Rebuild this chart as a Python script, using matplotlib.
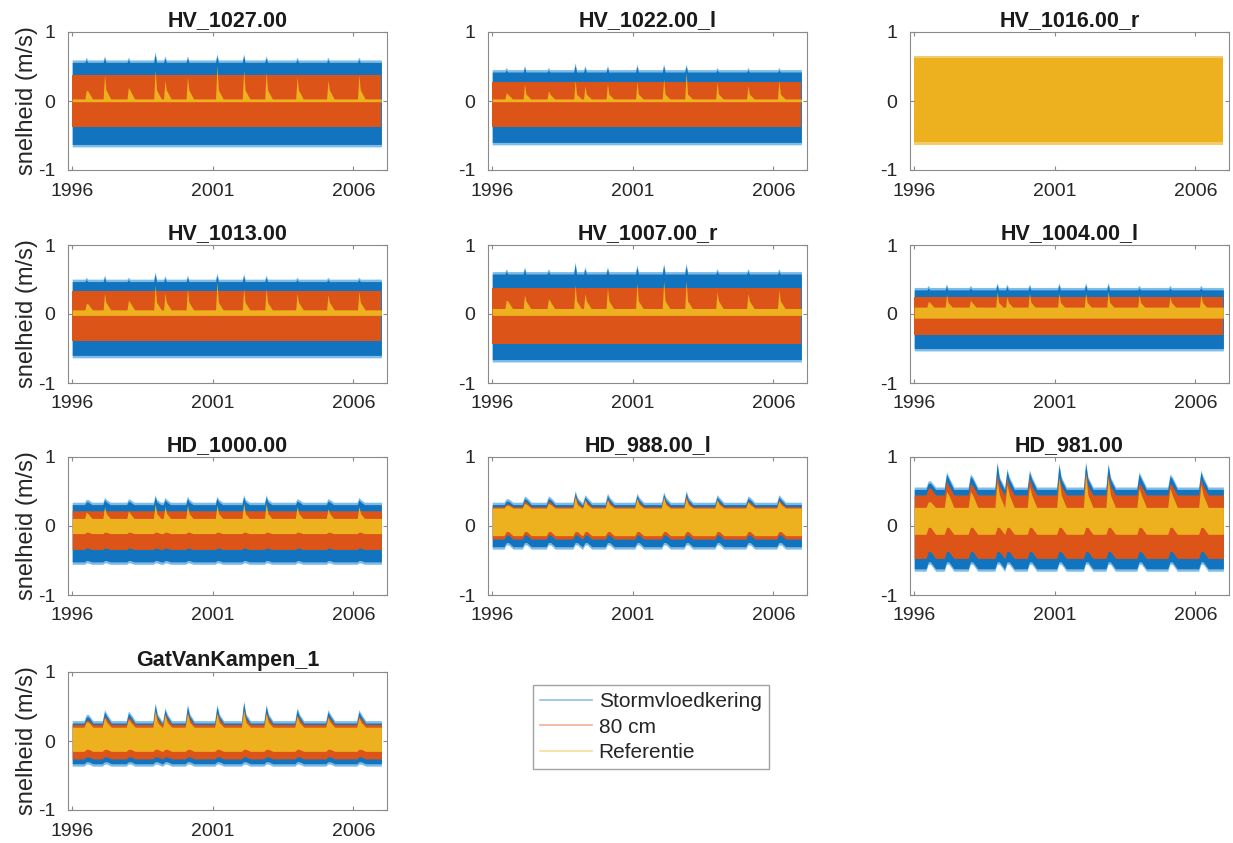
import matplotlib.pyplot as plt
from matplotlib.lines import Line2D

plt.rcParams['font.family'] = ['Liberation Sans', 'DejaVu Sans']
plt.rcParams['axes.unicode_minus'] = False

# station names (panel order, row by row)
titles = ['HV_1027.00', 'HV_1022.00_l', 'HV_1016.00_r',
          'HV_1013.00', 'HV_1007.00_r', 'HV_1004.00_l',
          'HD_1000.00', 'HD_988.00_l', 'HD_981.00',
          'GatVanKampen_1']
series_names = ['Stormvloedkering', '80 cm', 'Referentie']

t_start, t_end = 1996.0, 2007.0
xticks = [1996, 2001, 2006]
yticks = [-1, 0, 1]

# winter discharge peaks (decimal year)
peak_dates = [1996.5, 1997.15, 1998.0, 1998.95, 1999.3, 2000.1,
              2001.15, 2002.1, 2002.9, 2004.0, 2005.1, 2006.2]

# base envelope of each series (m/s), None = hidden under Referentie
storm_hi = [0.56, 0.42, None, 0.47, 0.58, 0.35, 0.31, 0.31, 0.53, 0.26]
storm_lo = [-0.63, -0.60, None, -0.60, -0.66, -0.50, -0.52, -0.30, -0.62, -0.33]
cm80_hi = [0.38, 0.28, None, 0.33, 0.37, 0.24, 0.22, 0.28, 0.45, 0.24]
cm80_lo = [-0.37, -0.38, None, -0.39, -0.43, -0.31, -0.34, -0.19, -0.47, -0.26]
ref_hi = [0.03, 0.03, 0.62, 0.06, 0.08, 0.10, 0.11, 0.26, 0.27, 0.20]
ref_lo = [-0.01, -0.01, -0.60, -0.02, -0.02, -0.06, -0.11, -0.14, -0.12, -0.15]

# upper envelope at each peak date
storm_peaks = [
    [0.60, 0.62, 0.60, 0.68, 0.62, 0.62, 0.65, 0.65, 0.62, 0.60, 0.60, 0.60],
    [0.45, 0.48, 0.45, 0.52, 0.48, 0.48, 0.50, 0.50, 0.50, 0.45, 0.45, 0.45],
    None,
    [0.50, 0.53, 0.50, 0.58, 0.52, 0.53, 0.56, 0.55, 0.53, 0.50, 0.50, 0.50],
    [0.62, 0.65, 0.62, 0.72, 0.65, 0.65, 0.68, 0.70, 0.70, 0.62, 0.62, 0.62],
    [0.38, 0.40, 0.38, 0.42, 0.40, 0.40, 0.42, 0.42, 0.42, 0.38, 0.38, 0.38],
    [0.35, 0.38, 0.36, 0.42, 0.38, 0.40, 0.40, 0.42, 0.42, 0.36, 0.36, 0.38],
    [0.36, 0.40, 0.40, 0.48, 0.42, 0.44, 0.44, 0.46, 0.48, 0.42, 0.40, 0.42],
    [0.62, 0.75, 0.72, 0.90, 0.80, 0.78, 0.88, 0.90, 0.88, 0.75, 0.72, 0.78],
    [0.35, 0.42, 0.40, 0.52, 0.45, 0.50, 0.50, 0.55, 0.50, 0.45, 0.42, 0.42],
]
cm80_peaks = [
    None, None, None, None, None, None, None,
    [0.32, 0.36, 0.36, 0.45, 0.38, 0.40, 0.40, 0.42, 0.44, 0.38, 0.36, 0.38],
    [0.55, 0.65, 0.62, 0.75, 0.70, 0.70, 0.72, 0.78, 0.75, 0.62, 0.62, 0.68],
    [0.30, 0.36, 0.34, 0.45, 0.40, 0.42, 0.42, 0.46, 0.42, 0.38, 0.36, 0.36],
]
ref_peaks = [
    [0.15, 0.38, 0.20, 0.45, 0.30, 0.35, 0.52, 0.45, 0.42, 0.35, 0.30, 0.38],
    [0.12, 0.25, 0.15, 0.30, 0.22, 0.25, 0.28, 0.32, 0.42, 0.28, 0.22, 0.30],
    None,
    [0.15, 0.30, 0.20, 0.42, 0.30, 0.37, 0.47, 0.37, 0.37, 0.30, 0.28, 0.33],
    [0.20, 0.28, 0.22, 0.42, 0.30, 0.38, 0.45, 0.48, 0.48, 0.32, 0.30, 0.35],
    [0.18, 0.28, 0.20, 0.32, 0.25, 0.30, 0.30, 0.30, 0.33, 0.28, 0.25, 0.28],
    [0.20, 0.28, 0.22, 0.32, 0.28, 0.30, 0.30, 0.33, 0.33, 0.28, 0.25, 0.28],
    [0.30, 0.33, 0.33, 0.42, 0.38, 0.38, 0.40, 0.42, 0.40, 0.38, 0.35, 0.36],
    [0.35, 0.50, 0.50, 0.65, 0.60, 0.58, 0.70, 0.75, 0.70, 0.55, 0.55, 0.60],
    [0.28, 0.34, 0.32, 0.43, 0.38, 0.40, 0.40, 0.44, 0.40, 0.36, 0.34, 0.34],
]
# level of the broad mound that follows a peak
storm_shoulder = [None, None, None, None, None, None, 0.35, 0.38, 0.68, 0.36]
cm80_shoulder = [None, None, None, None, None, None, None, 0.34, 0.58, 0.32]
ref_shoulder = [0.16, 0.10, None, 0.17, 0.19, 0.17, 0.18, 0.31, 0.45, 0.27]
# how far the lower envelopes lift during a peak
lo_rise = [0.0, 0.0, 0.0, 0.0, 0.0, 0.0, 0.02, 0.06, 0.10, 0.03]
# rise / decay time of a peak (years)
rise_time = [0.05, 0.05, 0.05, 0.05, 0.05, 0.05, 0.06, 0.08, 0.08, 0.08]
decay_time = [0.22, 0.22, 0.22, 0.22, 0.22, 0.2, 0.2, 0.24, 0.26, 0.24]

colors = ['#1274be', '#dd5418', '#edb120']
fringe_colors = ['#7dbce8', '#e88a5a', '#f3cc6a']
fringe = 0.035


def envelope(base, peaks, rise, decay, shoulder=None):
    xs, ys = [t_start], [base]
    for k, d in enumerate(peak_dates):
        p = base if peaks is None else peaks[k]
        s = base if shoulder is None else min(p, max(base, shoulder))
        xs += [d - rise, d, d + rise, d + decay]
        ys += [base, p, s, base]
    xs.append(t_end)
    ys.append(base)
    return xs, ys


def lower(base, rise_amt, rise, decay):
    xs, ys = [t_start], [base]
    for d in peak_dates:
        xs += [d - rise, d, d + rise, d + decay]
        ys += [base, base + rise_amt, base + rise_amt, base]
    xs.append(t_end)
    ys.append(base)
    return xs, ys


fig = plt.figure(figsize=(12.33, 8.43), dpi=100)

lefts = [68, 488, 910]
bottoms = [170, 383, 595, 810]
W, H = 319, 138

for i, title in enumerate(titles):
    r, c = divmod(i, 3)
    ax = fig.add_axes([lefts[c] / 1233, 1 - bottoms[r] / 843, W / 1233, H / 843])
    groups = [(storm_hi, storm_lo, storm_peaks, storm_shoulder),
              (cm80_hi, cm80_lo, cm80_peaks, cm80_shoulder),
              (ref_hi, ref_lo, ref_peaks, ref_shoulder)]
    for s, (hi, lo, pk, sh) in enumerate(groups):
        if hi[i] is None:
            continue
        x, top = envelope(hi[i], pk[i], rise_time[i], decay_time[i], sh[i])
        _, bot = lower(lo[i], lo_rise[i], rise_time[i], decay_time[i])
        # lighter noisy fringe around the outermost band
        if s == 0 or (i == 2 and s == 2):
            ax.fill_between(x, [v + fringe for v in top], [v - fringe for v in bot],
                            color=fringe_colors[s], lw=0)
        ax.fill_between(x, top, bot, color=colors[s], lw=0)
    ax.set_xlim(1995.85, 2007.2)
    ax.set_ylim(-1, 1)
    ax.set_xticks(xticks)
    ax.set_yticks(yticks)
    ax.tick_params(direction='in', length=3, top=True, right=True,
                   labelsize=14, colors='#8a8a8a', labelcolor='#262626', pad=9)
    for sp in ax.spines.values():
        sp.set_color('#8a8a8a')
    ax.set_title(title, fontsize=15.5, fontweight='bold', color='#1a1a1a', pad=4)
    if c == 0:
        ax.set_ylabel('snelheid (m/s)', fontsize=17, color='#262626', labelpad=0)

handles = [Line2D([], [], color=col, lw=1.2, alpha=0.45) for col in colors]
leg = fig.legend(handles, series_names, loc='upper left',
                 bbox_to_anchor=(533 / 1233, 1 - 685 / 843), fontsize=15,
                 frameon=True, fancybox=False, edgecolor='#8a8a8a',
                 handlelength=2.5, handletextpad=0.3, borderpad=0.35,
                 labelspacing=0.3, borderaxespad=0)
leg.get_frame().set_linewidth(1.0)
for t in leg.get_texts():
    t.set_color('#262626')

fig.savefig('out.png', dpi=100)
